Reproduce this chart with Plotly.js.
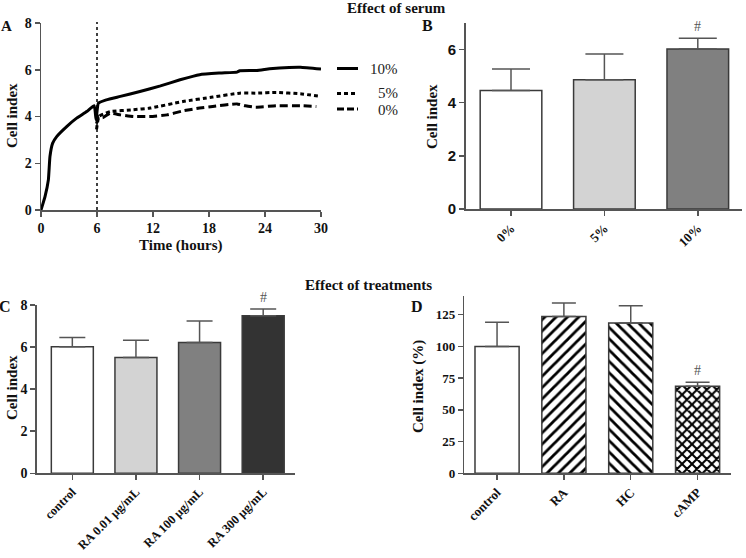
<!DOCTYPE html>
<html>
<head>
<meta charset="utf-8">
<script src="https://cdn.plot.ly/plotly-3.0.1.min.js"></script>
<style>html,body{margin:0;padding:0;background:#fff}#chart{width:746px;height:558px}</style>
</head>
<body>
<div id="chart"></div>
<script>
// ---------- Panel A: time course ----------
const timeA10 = [0, 0.43, 0.79, 0.96, 1.25, 1.68, 2.75, 3.82, 4.9, 5.7, 5.9, 6.15, 7.0, 8.5, 10.6, 12.8, 14.9, 17.0, 19.2, 21.0, 21.3, 23.1, 24.5, 26.6, 27.8, 30];
const serum10 = [0, 0.57, 1.29, 2.29, 2.86, 3.14, 3.57, 3.93, 4.21, 4.46, 3.86, 4.57, 4.71, 4.86, 5.07, 5.31, 5.57, 5.79, 5.86, 5.9, 5.96, 5.97, 6.04, 6.1, 6.11, 6.03];
const timeA5 = [5.95, 6.2, 6.8, 7.4, 9.9, 11.7, 15.2, 18.4, 21.3, 23.1, 25.2, 27.8, 30];
const serum5 = [3.45, 4.0, 4.12, 4.21, 4.29, 4.36, 4.64, 4.83, 5.0, 5.0, 5.03, 4.97, 4.86];
const timeA0 = [5.95, 6.2, 6.6, 7.4, 8.5, 9.9, 11.7, 13.5, 15.2, 17.0, 18.4, 21.0, 21.9, 23.0, 25.2, 27.8, 29.5];
const serum0 = [3.7, 4.02, 3.95, 4.14, 4.07, 4.0, 4.0, 4.07, 4.24, 4.36, 4.43, 4.54, 4.46, 4.4, 4.46, 4.46, 4.43];
const serumLabels = ["10%", "5%", "0%"];
const treatStart = 6;

// ---------- Panel B ----------
const catB = ["0%", "5%", "10%"];
const valB = [4.46, 4.86, 6.02];
const errB = [0.81, 0.97, 0.41];

// ---------- Panel C ----------
const catC = ["control", "RA 0.01 µg/mL", "RA 100 µg/mL", "RA 300 µg/mL"];
const valC = [6.02, 5.51, 6.22, 7.49];
const errC = [0.44, 0.81, 1.02, 0.32];

// ---------- Panel D ----------
const catD = ["control", "RA", "HC", "cAMP"];
const valD = [100, 123.6, 118.4, 68.7];
const errD = [19, 10.6, 13.7, 3];

const SERIF = '"Liberation Serif", "Times New Roman", serif';
const SANS = '"Liberation Sans", Arial, sans-serif';
const AX = '#555';
const W = 746, H = 558;
const px = x => x / W;
const py = y => 1 - y / H;

function baseAxis(extra) {
  return Object.assign({
    showline: true, linecolor: AX, linewidth: 1.5,
    ticks: 'outside', ticklen: 5, tickwidth: 1.5, tickcolor: AX,
    showgrid: false, zeroline: false, automargin: false,
    tickfont: {family: SERIF, size: 14, color: '#111', weight: 'bold'}
  }, extra);
}

const traces = [
  {x: timeA10, y: serum10, type: 'scatter', mode: 'lines', xaxis: 'x', yaxis: 'y',
   line: {color: '#000', width: 3, shape: 'spline', smoothing: 0.4}, name: serumLabels[0], showlegend: false},
  {x: timeA5, y: serum5, type: 'scatter', mode: 'lines', xaxis: 'x', yaxis: 'y',
   line: {color: '#000', width: 3, dash: '4px,3px', shape: 'spline', smoothing: 0.4}, name: serumLabels[1], showlegend: false},
  {x: timeA0, y: serum0, type: 'scatter', mode: 'lines', xaxis: 'x', yaxis: 'y',
   line: {color: '#000', width: 3, dash: '8px,4px', shape: 'spline', smoothing: 0.4}, name: serumLabels[2], showlegend: false},
  {x: catB, y: valB, type: 'bar', xaxis: 'x2', yaxis: 'y2', width: 0.66, showlegend: false,
   marker: {color: ['#ffffff', '#d3d3d3', '#808080'], line: {color: '#3a3a3a', width: 1.5}},
   error_y: {type: 'data', symmetric: false, array: errB, arrayminus: [0, 0, 0], color: '#555', thickness: 1.5, width: 19}},
  {x: catC, y: valC, type: 'bar', xaxis: 'x3', yaxis: 'y3', width: 0.66, showlegend: false,
   marker: {color: ['#ffffff', '#d3d3d3', '#808080', '#333333'], line: {color: '#3a3a3a', width: 1.5}},
   error_y: {type: 'data', symmetric: false, array: errC, arrayminus: [0, 0, 0, 0], color: '#555', thickness: 1.5, width: 13}},
  {x: catD, y: valD, type: 'bar', xaxis: 'x4', yaxis: 'y4', width: 0.66, showlegend: false,
   marker: {color: '#ffffff', line: {color: '#3a3a3a', width: 1.5},
            pattern: {shape: ['', '/', '\\', 'x'], fgcolor: '#000000', bgcolor: '#ffffff', fgopacity: 1,
                      size: [8, 8, 8, 7], solidity: [0.35, 0.35, 0.35, 0.5], fillmode: 'replace'}},
   error_y: {type: 'data', symmetric: false, array: errD, arrayminus: [0, 0, 0, 0], color: '#555', thickness: 1.5, width: 12}}
];

const layout = {
  width: W, height: H,
  margin: {l: 0, r: 0, t: 0, b: 0},
  paper_bgcolor: '#fff', plot_bgcolor: 'rgba(0,0,0,0)',
  showlegend: false,
  xaxis: baseAxis({domain: [px(41), px(321)], range: [0, 30], tickvals: [0, 6, 12, 18, 24, 30], anchor: 'y'}),
  yaxis: baseAxis({domain: [py(210), py(23)], range: [0, 8], tickvals: [0, 2, 4, 6, 8], anchor: 'x'}),
  xaxis2: baseAxis({type: 'category', domain: [px(465.7), px(741.7)], range: [-0.485, 2.47], anchor: 'y2', tickangle: -45,
                    tickfont: {family: SERIF, size: 13, color: '#111', weight: 'bold'}}),
  yaxis2: baseAxis({domain: [py(209), py(23)], range: [0, 7], tickvals: [0, 2, 4, 6], anchor: 'x2',
                    tickfont: {family: SANS, size: 15, color: '#111', weight: 'bold'}}),
  xaxis3: baseAxis({type: 'category', domain: [px(36.7), px(295)], range: [-0.56, 3.5], anchor: 'y3', tickangle: -45,
                    tickfont: {family: SERIF, size: 12.5, color: '#111', weight: 'bold'}}),
  yaxis3: baseAxis({domain: [py(473.3), py(305)], range: [0, 8], tickvals: [0, 2, 4, 6, 8], anchor: 'x3'}),
  xaxis4: baseAxis({type: 'category', domain: [px(464.3), px(731)], range: [-0.49, 3.5], anchor: 'y4', tickangle: -45,
                    tickfont: {family: SERIF, size: 13, color: '#111', weight: 'bold'}}),
  yaxis4: baseAxis({domain: [py(473.3), py(295.7)], range: [0, 140], tickvals: [0, 25, 50, 75, 100, 125], anchor: 'x4',
                    tickfont: {family: SERIF, size: 13, color: '#111', weight: 'bold'}}),
  shapes: [
    {type: 'line', xref: 'x', yref: 'paper', x0: treatStart, x1: treatStart, y0: py(210), y1: py(22),
     line: {color: '#000', width: 1.5, dash: 'dot'}},
    {type: 'line', xref: 'paper', yref: 'paper', x0: px(337), x1: px(358), y0: py(68.5), y1: py(68.5), line: {color: '#000', width: 3}},
    {type: 'line', xref: 'paper', yref: 'paper', x0: px(337), x1: px(358), y0: py(93.5), y1: py(93.5), line: {color: '#000', width: 3, dash: '4px,3px'}},
    {type: 'line', xref: 'paper', yref: 'paper', x0: px(337), x1: px(358), y0: py(109), y1: py(109), line: {color: '#000', width: 3, dash: '7px,3px'}}
  ],
  annotations: []
};

function ann(text, x, y, opts) {
  layout.annotations.push(Object.assign({
    text: text, xref: 'paper', yref: 'paper', x: px(x), y: py(y), showarrow: false,
    xanchor: 'center', yanchor: 'middle', borderpad: 0,
    font: {family: SERIF, size: 15, color: '#111', weight: 'bold'}
  }, opts || {}));
}

// Section titles and panel letters
ann('Effect of serum', 396, 8);
ann('Effect of treatments', 368, 285);
ann('A', 6, 26, {font: {family: SERIF, size: 15, color: '#111', weight: 'bold'}});
ann('B', 427, 26, {font: {family: SERIF, size: 16, color: '#111', weight: 'bold'}});
ann('C', 5, 306, {font: {family: SERIF, size: 16, color: '#111', weight: 'bold'}});
ann('D', 417, 306, {font: {family: SERIF, size: 16, color: '#111', weight: 'bold'}});
// Axis titles
ann('Cell index', 12, 116, {textangle: -90});
ann('Time (hours)', 180, 245);
ann('Cell index', 432, 117, {textangle: -90});
ann('Cell index', 12, 388, {textangle: -90});
ann('Cell index (%)', 418, 387, {textangle: -90});
// Legend labels for panel A
const legY = [69, 93, 110];
serumLabels.forEach((t, i) => ann(t, 399, legY[i], {xanchor: 'right', font: {family: SERIF, size: 15, color: '#222'}}));
// Significance marks
const markFont = {family: SERIF, size: 14, color: '#555'};
layout.annotations.push({text: '#', xref: 'x2', yref: 'y2', x: catB[2], y: valB[2] + errB[2], yanchor: 'bottom', yshift: 2, showarrow: false, font: markFont});
layout.annotations.push({text: '#', xref: 'x3', yref: 'y3', x: catC[3], y: valC[3] + errC[3], yanchor: 'bottom', yshift: 2, showarrow: false, font: markFont});
layout.annotations.push({text: '#', xref: 'x4', yref: 'y4', x: catD[3], y: valD[3] + errD[3], yanchor: 'bottom', yshift: 2, showarrow: false, font: markFont});

Plotly.newPlot('chart', traces, layout, {staticPlot: true, displayModeBar: false});
</script>
</body>
</html>
